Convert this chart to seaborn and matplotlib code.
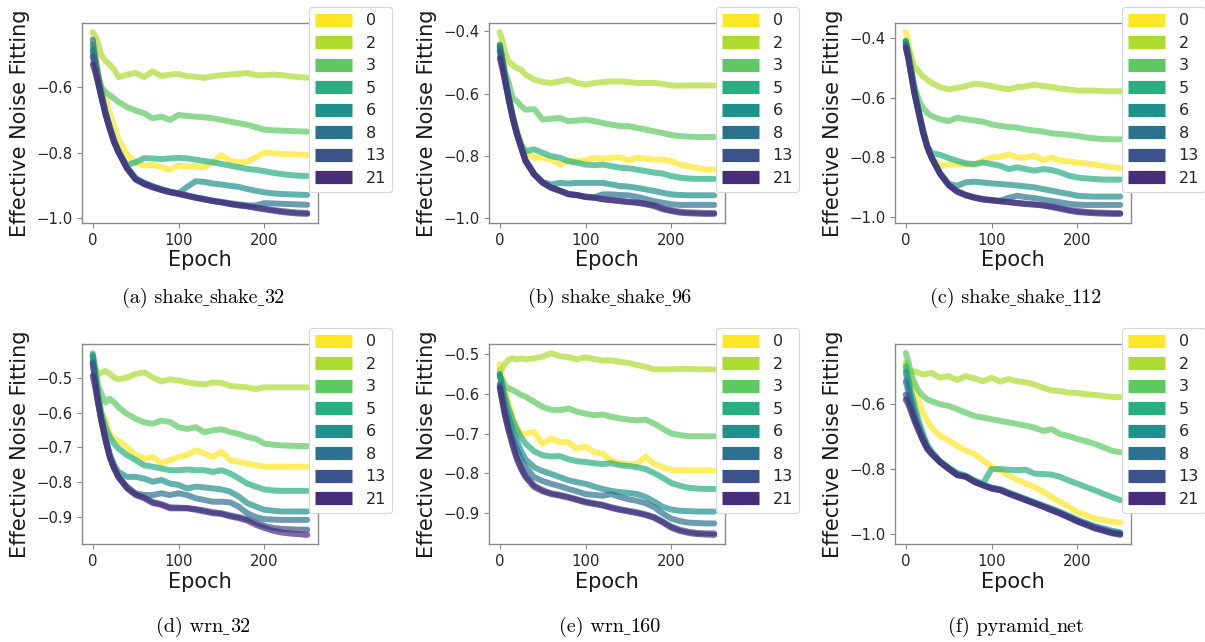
import numpy as np
import pandas as pd
import matplotlib
matplotlib.use("Agg")
import matplotlib.pyplot as plt
import seaborn as sns
from matplotlib.lines import Line2D
from matplotlib.offsetbox import TextArea, HPacker, AnnotationBbox

# Epochs at which the curves are sampled
EPOCHS = [0, 3, 6, 10, 15, 20, 25, 30, 40, 50, 60, 70, 80, 90, 100, 110, 120,
          130, 140, 150, 160, 170, 180, 190, 200, 210, 220, 230, 240, 250]

# Legend entries (one curve per value)
SEEDS = ["0", "2", "3", "5", "6", "8", "13", "21"]

# ---- (a) shake_shake_32 ----
A0 = [-0.47, -0.50, -0.55, -0.60, -0.64, -0.68, -0.72, -0.76, -0.805, -0.83, -0.84, -0.838, -0.845, -0.852, -0.84,
      -0.842, -0.843, -0.845, -0.83, -0.808, -0.825, -0.83, -0.828, -0.815, -0.80, -0.802, -0.804, -0.805, -0.806, -0.808]
A2 = [-0.431, -0.444, -0.464, -0.50, -0.52, -0.531, -0.546, -0.569, -0.561, -0.556, -0.569, -0.551, -0.566, -0.561, -0.559,
      -0.566, -0.568, -0.571, -0.566, -0.563, -0.561, -0.559, -0.556, -0.563, -0.563, -0.561, -0.563, -0.566, -0.569, -0.571]
A3 = [-0.47, -0.52, -0.56, -0.60, -0.615, -0.625, -0.635, -0.645, -0.661, -0.671, -0.68, -0.695, -0.69, -0.70, -0.685,
      -0.688, -0.69, -0.692, -0.695, -0.70, -0.705, -0.71, -0.715, -0.722, -0.73, -0.732, -0.733, -0.734, -0.735, -0.736]
A5 = [-0.49, -0.54, -0.58, -0.625, -0.68, -0.725, -0.765, -0.80, -0.838, -0.83, -0.817, -0.818, -0.82, -0.818, -0.816,
      -0.818, -0.822, -0.826, -0.83, -0.835, -0.84, -0.845, -0.85, -0.853, -0.857, -0.862, -0.866, -0.869, -0.871, -0.872]
A6 = [-0.485, -0.53, -0.575, -0.625, -0.68, -0.725, -0.765, -0.795, -0.845, -0.878, -0.893, -0.903, -0.912, -0.92, -0.925,
      -0.905, -0.888, -0.89, -0.895, -0.898, -0.902, -0.905, -0.912, -0.917, -0.922, -0.925, -0.927, -0.928, -0.929, -0.93]
A8 = [-0.454, -0.51, -0.56, -0.615, -0.675, -0.722, -0.763, -0.795, -0.846, -0.88, -0.894, -0.904, -0.913, -0.92, -0.925,
      -0.931, -0.937, -0.942, -0.947, -0.951, -0.955, -0.959, -0.962, -0.962, -0.955, -0.956, -0.957, -0.958, -0.959, -0.96]
A13 = [-0.505, -0.545, -0.58, -0.628, -0.683, -0.728, -0.768, -0.798, -0.848, -0.882, -0.896, -0.906, -0.914, -0.921, -0.926,
       -0.932, -0.938, -0.943, -0.948, -0.952, -0.957, -0.961, -0.964, -0.968, -0.972, -0.976, -0.979, -0.982, -0.984, -0.985]
A21 = [-0.53, -0.555, -0.585, -0.63, -0.685, -0.73, -0.77, -0.80, -0.85, -0.883, -0.897, -0.907, -0.915, -0.922, -0.927,
       -0.933, -0.939, -0.944, -0.949, -0.953, -0.958, -0.962, -0.965, -0.97, -0.974, -0.978, -0.982, -0.985, -0.987, -0.988]

# ---- (b) shake_shake_96 ----
B0 = [-0.44, -0.47, -0.53, -0.60, -0.66, -0.715, -0.76, -0.79, -0.807, -0.807, -0.813, -0.829, -0.818, -0.818, -0.816,
      -0.807, -0.81, -0.807, -0.805, -0.816, -0.807, -0.81, -0.813, -0.813, -0.818, -0.829, -0.834, -0.84, -0.845, -0.845]
B2 = [-0.402, -0.427, -0.464, -0.496, -0.507, -0.518, -0.523, -0.539, -0.555, -0.563, -0.566, -0.561, -0.555, -0.566, -0.571,
      -0.566, -0.563, -0.561, -0.561, -0.563, -0.566, -0.566, -0.566, -0.569, -0.574, -0.575, -0.574, -0.574, -0.574, -0.574]
B3 = [-0.45, -0.49, -0.53, -0.561, -0.614, -0.625, -0.641, -0.652, -0.65, -0.684, -0.681, -0.679, -0.689, -0.687, -0.684,
      -0.689, -0.695, -0.70, -0.705, -0.705, -0.711, -0.716, -0.722, -0.727, -0.734, -0.737, -0.739, -0.74, -0.74, -0.74]
B5 = [-0.445, -0.49, -0.54, -0.60, -0.67, -0.725, -0.765, -0.786, -0.78, -0.791, -0.802, -0.807, -0.818, -0.823, -0.829,
      -0.831, -0.829, -0.834, -0.839, -0.841, -0.845, -0.85, -0.855, -0.858, -0.866, -0.871, -0.874, -0.875, -0.875, -0.875]
B6 = [-0.443, -0.49, -0.54, -0.605, -0.672, -0.727, -0.77, -0.812, -0.857, -0.885, -0.893, -0.888, -0.89, -0.888, -0.888,
      -0.888, -0.888, -0.893, -0.898, -0.90, -0.904, -0.909, -0.914, -0.92, -0.925, -0.927, -0.928, -0.928, -0.928, -0.928]
B8 = [-0.453, -0.50, -0.55, -0.61, -0.676, -0.73, -0.773, -0.816, -0.86, -0.887, -0.903, -0.913, -0.923, -0.927, -0.932,
      -0.935, -0.925, -0.925, -0.927, -0.928, -0.933, -0.94, -0.947, -0.952, -0.957, -0.959, -0.959, -0.959, -0.959, -0.959]
B13 = [-0.464, -0.51, -0.555, -0.612, -0.678, -0.731, -0.774, -0.817, -0.86, -0.887, -0.903, -0.913, -0.924, -0.927, -0.933,
       -0.935, -0.94, -0.943, -0.946, -0.949, -0.951, -0.955, -0.96, -0.97, -0.976, -0.981, -0.983, -0.984, -0.985, -0.985]
B21 = [-0.486, -0.52, -0.56, -0.614, -0.679, -0.732, -0.775, -0.818, -0.861, -0.888, -0.904, -0.914, -0.925, -0.928, -0.934,
       -0.936, -0.941, -0.944, -0.947, -0.95, -0.952, -0.957, -0.963, -0.973, -0.979, -0.984, -0.986, -0.987, -0.988, -0.988]

# ---- (c) shake_shake_112 ----
C0 = [-0.38, -0.41, -0.47, -0.56, -0.64, -0.70, -0.755, -0.80, -0.828, -0.824, -0.822, -0.822, -0.825, -0.811, -0.80,
      -0.798, -0.789, -0.80, -0.80, -0.794, -0.809, -0.80, -0.811, -0.813, -0.817, -0.82, -0.824, -0.828, -0.833, -0.836]
C2 = [-0.409, -0.43, -0.46, -0.494, -0.511, -0.528, -0.539, -0.55, -0.564, -0.572, -0.567, -0.561, -0.553, -0.556, -0.561,
      -0.567, -0.572, -0.564, -0.562, -0.556, -0.561, -0.564, -0.569, -0.572, -0.576, -0.576, -0.576, -0.578, -0.578, -0.578]
C3 = [-0.415, -0.46, -0.50, -0.56, -0.605, -0.633, -0.65, -0.661, -0.672, -0.678, -0.667, -0.672, -0.676, -0.68, -0.689,
      -0.694, -0.698, -0.70, -0.706, -0.71, -0.713, -0.719, -0.722, -0.724, -0.728, -0.733, -0.736, -0.738, -0.739, -0.739]
C5 = [-0.41, -0.45, -0.50, -0.57, -0.64, -0.705, -0.76, -0.785, -0.791, -0.802, -0.811, -0.82, -0.822, -0.817, -0.822,
      -0.828, -0.839, -0.833, -0.839, -0.844, -0.839, -0.842, -0.85, -0.861, -0.867, -0.87, -0.872, -0.874, -0.874, -0.874]
C6 = [-0.41, -0.455, -0.505, -0.575, -0.645, -0.71, -0.762, -0.798, -0.852, -0.888, -0.895, -0.883, -0.881, -0.884, -0.887,
      -0.889, -0.891, -0.894, -0.897, -0.90, -0.906, -0.911, -0.917, -0.922, -0.928, -0.93, -0.931, -0.931, -0.931, -0.931]
C8 = [-0.42, -0.46, -0.51, -0.58, -0.647, -0.712, -0.763, -0.799, -0.853, -0.891, -0.913, -0.925, -0.933, -0.939, -0.942,
      -0.945, -0.935, -0.928, -0.933, -0.936, -0.941, -0.946, -0.95, -0.955, -0.958, -0.959, -0.959, -0.959, -0.959, -0.959]
C13 = [-0.428, -0.465, -0.515, -0.582, -0.648, -0.713, -0.764, -0.80, -0.854, -0.892, -0.914, -0.926, -0.934, -0.94, -0.943,
       -0.946, -0.949, -0.952, -0.955, -0.957, -0.96, -0.964, -0.969, -0.975, -0.979, -0.982, -0.984, -0.985, -0.986, -0.986]
C21 = [-0.433, -0.47, -0.52, -0.585, -0.65, -0.715, -0.765, -0.80, -0.855, -0.893, -0.915, -0.927, -0.935, -0.941, -0.944,
       -0.947, -0.95, -0.953, -0.956, -0.958, -0.961, -0.966, -0.972, -0.978, -0.983, -0.985, -0.987, -0.988, -0.989, -0.989]

# ---- (d) wrn_32 ----
D0 = [-0.46, -0.50, -0.55, -0.60, -0.623, -0.661, -0.675, -0.68, -0.699, -0.722, -0.732, -0.727, -0.746, -0.736, -0.727,
      -0.722, -0.708, -0.717, -0.727, -0.712, -0.736, -0.741, -0.746, -0.751, -0.755, -0.755, -0.755, -0.755, -0.755, -0.755]
D2 = [-0.46, -0.472, -0.49, -0.486, -0.481, -0.49, -0.50, -0.505, -0.50, -0.49, -0.485, -0.50, -0.511, -0.505, -0.508,
      -0.514, -0.517, -0.52, -0.514, -0.515, -0.524, -0.526, -0.528, -0.533, -0.528, -0.528, -0.528, -0.528, -0.528, -0.528]
D3 = [-0.43, -0.47, -0.52, -0.547, -0.571, -0.561, -0.571, -0.585, -0.604, -0.618, -0.628, -0.632, -0.623, -0.627, -0.642,
      -0.647, -0.642, -0.656, -0.651, -0.648, -0.656, -0.661, -0.67, -0.675, -0.689, -0.692, -0.694, -0.695, -0.696, -0.696]
D5 = [-0.44, -0.49, -0.54, -0.60, -0.642, -0.67, -0.689, -0.703, -0.722, -0.736, -0.751, -0.755, -0.76, -0.765, -0.765,
      -0.763, -0.765, -0.765, -0.77, -0.765, -0.774, -0.788, -0.803, -0.812, -0.82, -0.823, -0.824, -0.824, -0.824, -0.824]
D6 = [-0.435, -0.50, -0.56, -0.62, -0.67, -0.72, -0.75, -0.77, -0.784, -0.784, -0.789, -0.798, -0.793, -0.803, -0.807,
      -0.817, -0.812, -0.814, -0.817, -0.82, -0.826, -0.84, -0.859, -0.869, -0.878, -0.881, -0.883, -0.883, -0.883, -0.883]
D8 = [-0.455, -0.51, -0.565, -0.625, -0.68, -0.725, -0.76, -0.785, -0.812, -0.831, -0.836, -0.836, -0.831, -0.836, -0.831,
      -0.836, -0.845, -0.85, -0.855, -0.855, -0.857, -0.869, -0.888, -0.899, -0.905, -0.906, -0.907, -0.907, -0.907, -0.907]
D13 = [-0.46, -0.515, -0.565, -0.62, -0.678, -0.728, -0.758, -0.783, -0.815, -0.834, -0.843, -0.856, -0.862, -0.871, -0.872,
       -0.873, -0.876, -0.88, -0.885, -0.888, -0.894, -0.899, -0.905, -0.915, -0.924, -0.93, -0.933, -0.934, -0.935, -0.935]
D21 = [-0.495, -0.53, -0.57, -0.62, -0.68, -0.73, -0.76, -0.785, -0.817, -0.836, -0.845, -0.859, -0.864, -0.874, -0.874,
       -0.874, -0.878, -0.883, -0.888, -0.89, -0.897, -0.902, -0.909, -0.921, -0.93, -0.938, -0.943, -0.946, -0.948, -0.95]

# ---- (e) wrn_160 ----
E0 = [-0.525, -0.56, -0.59, -0.62, -0.658, -0.684, -0.705, -0.70, -0.696, -0.726, -0.713, -0.722, -0.722, -0.738, -0.733,
      -0.747, -0.751, -0.768, -0.775, -0.777, -0.777, -0.758, -0.777, -0.785, -0.792, -0.793, -0.793, -0.793, -0.793, -0.793]
E2 = [-0.54, -0.536, -0.525, -0.514, -0.51, -0.513, -0.51, -0.513, -0.51, -0.506, -0.497, -0.505, -0.507, -0.513, -0.508,
      -0.512, -0.516, -0.515, -0.519, -0.522, -0.527, -0.532, -0.538, -0.538, -0.538, -0.537, -0.537, -0.538, -0.538, -0.538]
E3 = [-0.555, -0.565, -0.578, -0.586, -0.59, -0.596, -0.603, -0.607, -0.62, -0.633, -0.64, -0.641, -0.637, -0.645, -0.65,
      -0.654, -0.652, -0.658, -0.662, -0.665, -0.667, -0.665, -0.675, -0.688, -0.70, -0.704, -0.707, -0.707, -0.707, -0.707]
E5 = [-0.55, -0.58, -0.605, -0.635, -0.665, -0.69, -0.71, -0.725, -0.745, -0.755, -0.758, -0.757, -0.765, -0.77, -0.772,
      -0.775, -0.777, -0.775, -0.78, -0.782, -0.785, -0.79, -0.80, -0.812, -0.825, -0.832, -0.837, -0.839, -0.84, -0.84]
E6 = [-0.55, -0.585, -0.62, -0.655, -0.69, -0.72, -0.745, -0.765, -0.785, -0.795, -0.802, -0.81, -0.818, -0.823, -0.827,
      -0.834, -0.84, -0.845, -0.848, -0.85, -0.853, -0.86, -0.872, -0.885, -0.892, -0.895, -0.896, -0.897, -0.897, -0.897]
E8 = [-0.575, -0.61, -0.64, -0.675, -0.71, -0.74, -0.765, -0.785, -0.81, -0.82, -0.827, -0.833, -0.84, -0.846, -0.853,
      -0.855, -0.857, -0.853, -0.86, -0.866, -0.87, -0.876, -0.886, -0.902, -0.915, -0.921, -0.925, -0.926, -0.927, -0.927]
E13 = [-0.58, -0.615, -0.65, -0.686, -0.726, -0.761, -0.786, -0.806, -0.831, -0.843, -0.851, -0.855, -0.86, -0.866, -0.872,
       -0.876, -0.88, -0.886, -0.891, -0.895, -0.899, -0.904, -0.911, -0.922, -0.935, -0.943, -0.948, -0.951, -0.952, -0.952]
E21 = [-0.585, -0.62, -0.655, -0.69, -0.73, -0.765, -0.79, -0.81, -0.835, -0.846, -0.853, -0.857, -0.862, -0.868, -0.874,
       -0.878, -0.882, -0.888, -0.893, -0.897, -0.901, -0.906, -0.913, -0.925, -0.938, -0.946, -0.951, -0.954, -0.955, -0.956]

# ---- (f) pyramid_net ----
F0 = [-0.478, -0.498, -0.518, -0.549, -0.59, -0.626, -0.651, -0.671, -0.697, -0.712, -0.728, -0.743, -0.753, -0.773, -0.792,
      -0.804, -0.819, -0.833, -0.845, -0.855, -0.87, -0.886, -0.901, -0.916, -0.932, -0.942, -0.952, -0.957, -0.962, -0.965]
F2 = [-0.47, -0.49, -0.50, -0.498, -0.503, -0.508, -0.506, -0.503, -0.518, -0.513, -0.525, -0.513, -0.52, -0.529, -0.518,
      -0.53, -0.522, -0.529, -0.532, -0.539, -0.549, -0.557, -0.559, -0.564, -0.565, -0.569, -0.571, -0.574, -0.577, -0.578]
F3 = [-0.442, -0.467, -0.503, -0.534, -0.559, -0.574, -0.585, -0.59, -0.60, -0.605, -0.615, -0.626, -0.636, -0.641, -0.646,
      -0.651, -0.656, -0.661, -0.666, -0.672, -0.682, -0.677, -0.692, -0.698, -0.707, -0.714, -0.722, -0.732, -0.743, -0.748]
F5 = [-0.483, -0.52, -0.56, -0.60, -0.65, -0.69, -0.725, -0.745, -0.775, -0.795, -0.812, -0.82, -0.835, -0.845, -0.80,
      -0.80, -0.802, -0.803, -0.802, -0.814, -0.815, -0.817, -0.824, -0.835, -0.845, -0.855, -0.865, -0.876, -0.886, -0.896]
F6 = [-0.50, -0.54, -0.58, -0.62, -0.665, -0.70, -0.73, -0.75, -0.777, -0.797, -0.815, -0.822, -0.837, -0.848, -0.857,
      -0.862, -0.872, -0.882, -0.892, -0.902, -0.912, -0.922, -0.932, -0.944, -0.956, -0.966, -0.976, -0.983, -0.99, -0.995]
F8 = [-0.529, -0.56, -0.595, -0.635, -0.672, -0.705, -0.733, -0.752, -0.778, -0.798, -0.817, -0.823, -0.838, -0.849, -0.858,
      -0.863, -0.874, -0.884, -0.894, -0.904, -0.914, -0.924, -0.935, -0.947, -0.959, -0.969, -0.979, -0.986, -0.994, -0.998]
F13 = [-0.57, -0.59, -0.615, -0.645, -0.678, -0.71, -0.736, -0.752, -0.778, -0.799, -0.818, -0.823, -0.839, -0.85, -0.86,
       -0.865, -0.876, -0.886, -0.896, -0.906, -0.916, -0.927, -0.937, -0.949, -0.961, -0.971, -0.981, -0.989, -0.996, -1.0]
F21 = [-0.585, -0.60, -0.62, -0.651, -0.682, -0.712, -0.738, -0.753, -0.779, -0.799, -0.819, -0.824, -0.84, -0.85, -0.86,
       -0.865, -0.876, -0.886, -0.896, -0.906, -0.916, -0.927, -0.937, -0.949, -0.962, -0.972, -0.983, -0.99, -0.998, -1.003]

CAPTIONS = ["(a) shake_shake_32", "(b) shake_shake_96", "(c) shake_shake_112",
            "(d) wrn_32", "(e) wrn_160", "(f) pyramid_net"]
SERIES = [
    [A0, A2, A3, A5, A6, A8, A13, A21],
    [B0, B2, B3, B5, B6, B8, B13, B21],
    [C0, C2, C3, C5, C6, C8, C13, C21],
    [D0, D2, D3, D5, D6, D8, D13, D21],
    [E0, E2, E3, E5, E6, E8, E13, E21],
    [F0, F2, F3, F5, F6, F8, F13, F21],
]
YTICKS = [
    [-1.0, -0.8, -0.6],
    [-1.0, -0.8, -0.6, -0.4],
    [-1.0, -0.8, -0.6, -0.4],
    [-0.9, -0.8, -0.7, -0.6, -0.5],
    [-0.9, -0.8, -0.7, -0.6, -0.5],
    [-1.0, -0.8, -0.6],
]
XTICKS = [0, 100, 200]

sns.set_style("white", {
    "axes.edgecolor": "#8a8a8a",
    "xtick.bottom": True,
    "ytick.left": True,
    "xtick.color": "#8a8a8a",
    "ytick.color": "#8a8a8a",
})
plt.rcParams["font.family"] = ["DejaVu Sans"]

palette = {s: matplotlib.colormaps["viridis"](v)
           for s, v in zip(SEEDS, np.linspace(1.0, 0.125, len(SEEDS)))}

W, H = 1205, 642
fig = plt.figure(figsize=(W / 100, H / 100), dpi=100)

col_left = [82, 489, 895]
row_top = [23, 344]
ax_w, ax_h = 236, 200

CAP_SIZE = 14.5
CAP_FONT = dict(family="cmr10", fontsize=CAP_SIZE, color="black")
# cmr10 has no underscore glyph, so underscores come from a serif fallback
USCORE_FONT = dict(family="DejaVu Serif", fontsize=CAP_SIZE * 0.62, color="black")


def caption_box(text):
    parts = text.split("_")
    areas = []
    for k, part in enumerate(parts):
        if k > 0:
            areas.append(TextArea("_", textprops=USCORE_FONT))
        areas.append(TextArea(part, textprops=CAP_FONT))
    return HPacker(children=areas, align="baseline", pad=0, sep=0)


for i, (caption, series, yt) in enumerate(zip(CAPTIONS, SERIES, YTICKS)):
    r, c = divmod(i, 3)
    left, top = col_left[c], row_top[r]
    ax = fig.add_axes([left / W, 1 - (top + ax_h) / H, ax_w / W, ax_h / H])

    df = pd.DataFrame({
        "Epoch": EPOCHS * len(SEEDS),
        "value": [v for s in series for v in s],
        "seed": [s for s in SEEDS for _ in EPOCHS],
    })
    sns.lineplot(data=df, x="Epoch", y="value", hue="seed", hue_order=SEEDS,
                 palette=palette, linewidth=4.3, alpha=0.7, errorbar=None,
                 legend=False, ax=ax)

    ax.set_xticks(XTICKS)
    ax.set_yticks(yt)
    ax.tick_params(axis="both", labelsize=10.7, labelcolor="#262626",
                   length=3.5, width=0.8)
    for sp in ax.spines.values():
        sp.set_linewidth(1.0)
    ax.set_xlabel("Epoch", fontsize=15, color="#1a1a1a", labelpad=2)
    ax.set_ylabel("Effective Noise Fitting", fontsize=15, color="#1a1a1a")

    handles = [Line2D([], [], color=palette[s], lw=9.5, solid_capstyle="butt")
               for s in SEEDS]
    leg = ax.legend(handles, SEEDS, loc="upper left",
                    bbox_to_anchor=(0.962, 1.08), borderaxespad=0,
                    fontsize=11.5, handlelength=2.3, handletextpad=0.85,
                    labelspacing=0.47, borderpad=0.4, frameon=True,
                    framealpha=1.0, fancybox=True)
    leg.get_frame().set_edgecolor("#d6d6d6")
    leg.get_frame().set_linewidth(0.8)

    cap_y = 298 if r == 0 else 627
    ab = AnnotationBbox(caption_box(caption),
                        ((left + ax_w / 2 + 3) / W, 1 - cap_y / H),
                        xycoords="figure fraction", frameon=False,
                        box_alignment=(0.5, 0.5), pad=0)
    fig.add_artist(ab)

fig.savefig("out.png", dpi=100)
